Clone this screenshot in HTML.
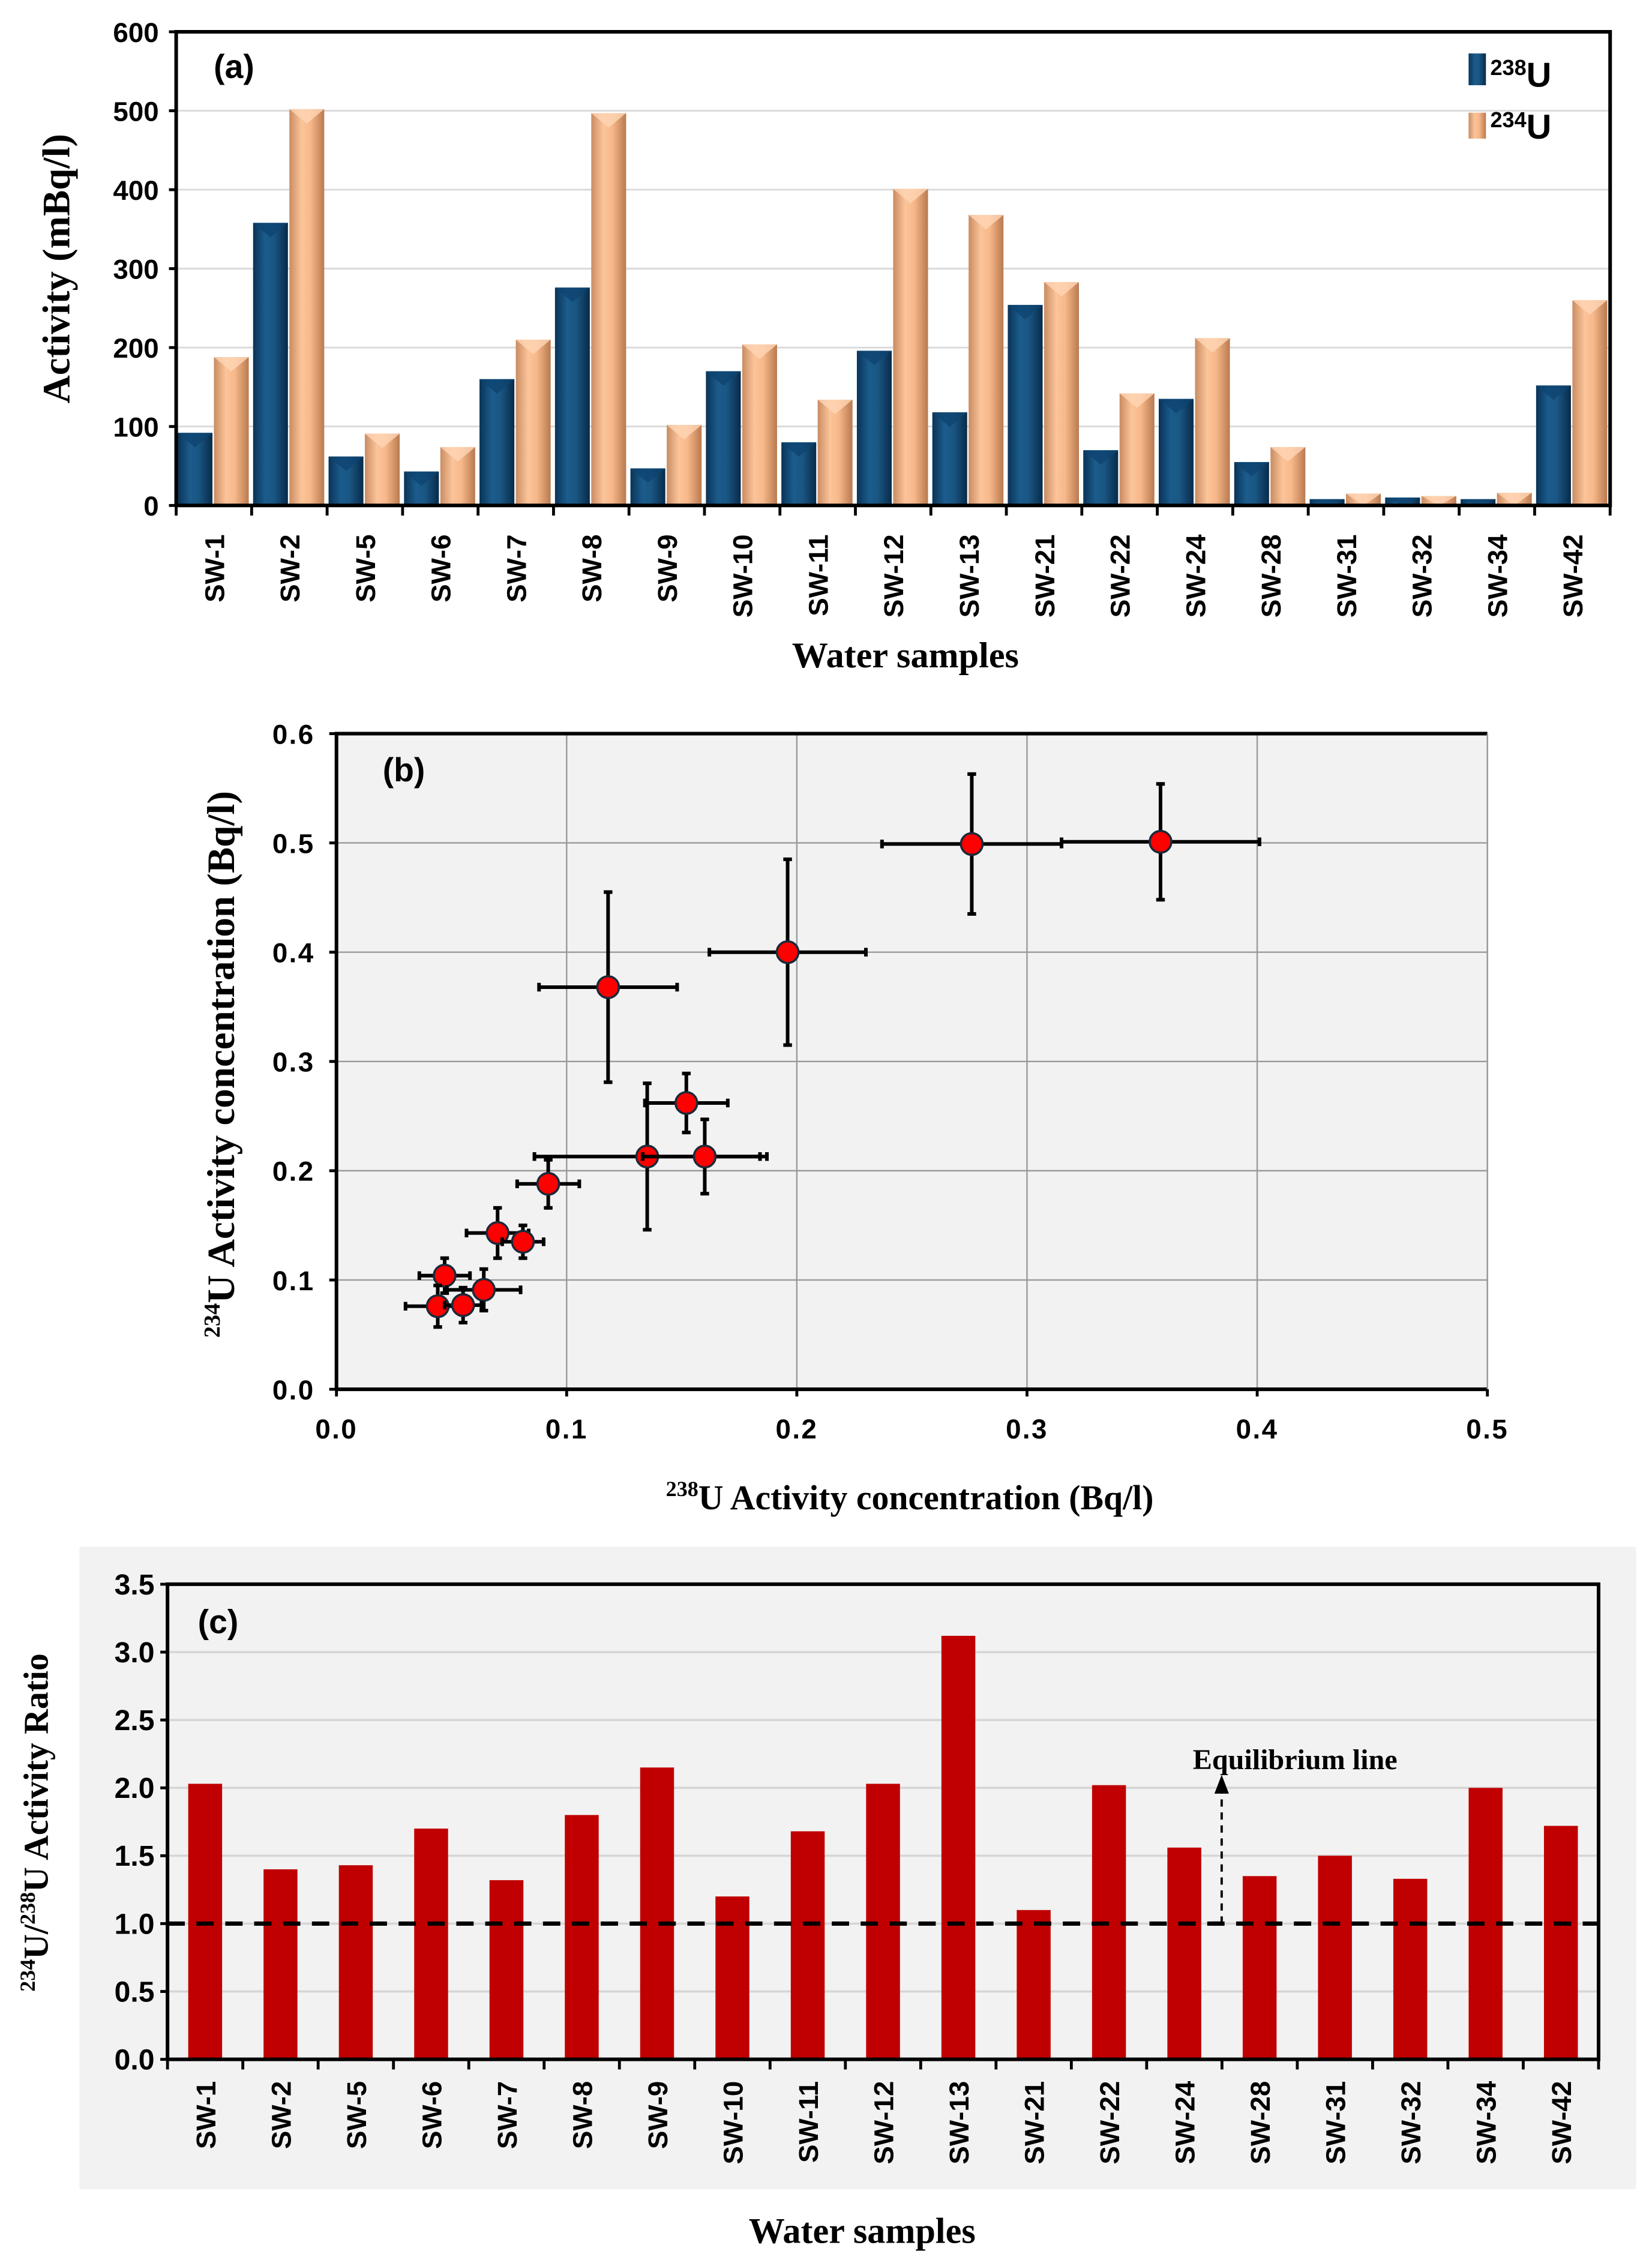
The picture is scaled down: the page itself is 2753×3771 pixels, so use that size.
<!DOCTYPE html>
<html><head><meta charset="utf-8">
<style>
html,body{margin:0;padding:0;background:#fff;}
svg{display:block;}
.ar{font-family:"Liberation Sans",Arial,sans-serif;font-weight:bold;}
.tr{font-family:"Liberation Serif","Times New Roman",serif;font-weight:bold;}
</style></head>
<body>
<svg id="fig" xmlns="http://www.w3.org/2000/svg" width="2753" height="3771" viewBox="0 0 1144 1567">
<defs>
<linearGradient id="gBlue" x1="0" x2="1" y1="0" y2="0">
<stop offset="0" stop-color="#0a3357"/><stop offset="0.35" stop-color="#1b5c8c"/><stop offset="0.6" stop-color="#1a5683"/><stop offset="1" stop-color="#082b4a"/>
</linearGradient>
<linearGradient id="gOr" x1="0" x2="1" y1="0" y2="0">
<stop offset="0" stop-color="#c98c62"/><stop offset="0.35" stop-color="#fcc49a"/><stop offset="0.6" stop-color="#f7b88a"/><stop offset="1" stop-color="#b97a50"/>
</linearGradient>
</defs>
<g id="pa"></g>
<g id="pb"></g>
<g id="pc"></g>
</svg>
<script>
const samplesA = ["SW-1","SW-2","SW-5","SW-6","SW-7","SW-8","SW-9","SW-10","SW-11","SW-12","SW-13","SW-21","SW-22","SW-24","SW-28","SW-31","SW-32","SW-34","SW-42"];
const u238 = [92,358,62,43,160,276,47,170,80,196,118,254,70,135,55,8,10,8,152];
const u234 = [188,502,91,74,210,497,102,204,134,401,368,283,142,212,74,15,12,16,260];
const aTicks = [0,100,200,300,400,500,600];

const bX = [0.358,0.276,0.196,0.118,0.152,0.135,0.160,0.092,0.070,0.081,0.047,0.064,0.044,0.055];
const bY = [0.501,0.499,0.400,0.368,0.262,0.213,0.213,0.188,0.143,0.135,0.104,0.091,0.076,0.077];
const bXerr = [0.043,0.039,0.034,0.030,0.018,0.049,0.027,0.0135,0.0135,0.009,0.011,0.016,0.014,0.008];
const bYerr = [0.053,0.064,0.085,0.087,0.027,0.067,0.034,0.022,0.023,0.015,0.016,0.019,0.019,0.016];
const bXTicks = [0,0.1,0.2,0.3,0.4,0.5];
const bYTicks = [0,0.1,0.2,0.3,0.4,0.5,0.6];

const samplesC = ["SW-1","SW-2","SW-5","SW-6","SW-7","SW-8","SW-9","SW-10","SW-11","SW-12","SW-13","SW-21","SW-22","SW-24","SW-28","SW-31","SW-32","SW-34","SW-42"];
const ratio = [2.03,1.40,1.43,1.70,1.32,1.80,2.15,1.20,1.68,2.03,3.12,1.10,2.02,1.56,1.35,1.50,1.33,2.00,1.72];
const cTicks = [0,0.5,1.0,1.5,2.0,2.5,3.0,3.5];
const equilibrium = 1.0;

const NS="http://www.w3.org/2000/svg";
function mk(parent,tag,attrs,text){const e=document.createElementNS(NS,tag);for(const k in attrs)e.setAttribute(k,attrs[k]);if(text!==undefined)e.textContent=text;parent.appendChild(e);return e;}

/* ---------- Panel A ---------- */
(function(){
 const g=document.getElementById('pa');
 const L=122,R=1115,T=22,B=350;
 const y=v=>B-(v/600)*(B-T);
 const cw=(R-L)/samplesA.length;
 const x=i=>L+i*cw;
 aTicks.forEach(t=>{
  if(t>0&&t<600){const l=mk(g,'line',{x1:L,x2:R,y1:y(t),y2:y(t),stroke:'#d9d9d9','stroke-width':1.2});}
  const tx=mk(g,'text',{x:L-12,y:y(t)+7,'text-anchor':'end','font-size':19,class:'ar'},String(t));
  
  mk(g,'line',{x1:L-5,x2:L,y1:y(t),y2:y(t),stroke:'#000','stroke-width':2});
 });
 samplesA.forEach((s,i)=>{
  const x0=x(i)+1,w=cw/2-1;
  [[u238[i],'url(#gBlue)','#0e4470','bar-u238',x0],[u234[i],'url(#gOr)','#ffd6b5','bar-u234',x0+w]].forEach(([v,f,top,nm,xx])=>{
   const r=mk(g,'rect',{x:xx,y:y(v),width:w-1,height:B-y(v),fill:f});
   
   const h=Math.min(10,B-y(v));
   mk(g,'polygon',{points:`${xx},${y(v)} ${xx+w-1},${y(v)} ${xx+(w-1)/2},${y(v)+h}`,fill:top,opacity:0.8});
  });
  const lx=x(i)+cw/2;
  const t=mk(g,'text',{x:0,y:0,'text-anchor':'end','font-size':19,class:'ar',transform:`translate(${lx+7},${B+20}) rotate(-90)`},s);
  
  mk(g,'line',{x1:x(i),x2:x(i),y1:B,y2:B+7,stroke:'#000','stroke-width':2});
 });
 mk(g,'line',{x1:R,x2:R,y1:B,y2:B+7,stroke:'#000','stroke-width':2});
 mk(g,'polyline',{points:`${L},${B} ${L},${T} ${R},${T} ${R},${B} ${L},${B}`,fill:'none',stroke:'#000','stroke-width':2.5});
 let e=mk(g,'text',{x:148,y:54,'font-size':23,class:'ar'},'(a)');
 e=mk(g,'text',{x:0,y:0,'text-anchor':'middle','font-size':27,class:'tr',transform:'translate(48,186) rotate(-90)'},'Activity  (mBq/l)');
 e=mk(g,'text',{x:627,y:462,'text-anchor':'middle','font-size':25,class:'tr'},'Water  samples');
 const lg=mk(g,'g',{});
 mk(lg,'rect',{x:1017,y:37,width:12,height:22,fill:'url(#gBlue)'});
 mk(lg,'rect',{x:1017,y:78,width:12,height:18,fill:'url(#gOr)'});
 const t1=mk(lg,'text',{x:1032,y:56,'font-size':19,class:'ar'});t1.innerHTML='<tspan font-size="15" dy="-4">238</tspan><tspan font-size="24" dy="8">U</tspan>';
 
 const t2=mk(lg,'text',{x:1032,y:92,'font-size':19,class:'ar'});t2.innerHTML='<tspan font-size="15" dy="-4">234</tspan><tspan font-size="24" dy="8">U</tspan>';
 
})();

/* ---------- Panel B ---------- */
(function(){
 const g=document.getElementById('pb');
 const L=233,R=1030,T=508,B=962;
 const x=v=>L+(v/0.5)*(R-L), y=v=>B-(v/0.6)*(B-T);
 const bg=mk(g,'rect',{x:L,y:T,width:R-L,height:B-T,fill:'#f2f2f2'});
 bXTicks.forEach(t=>{
  if(t>0)mk(g,'line',{x1:x(t),x2:x(t),y1:T,y2:B,stroke:'#9a9a9a','stroke-width':1});
  mk(g,'line',{x1:x(t),x2:x(t),y1:B,y2:B+5,stroke:'#000','stroke-width':2});
  const e=mk(g,'text',{x:x(t),y:B+34,'text-anchor':'middle','font-size':19,class:'ar','letter-spacing':1},t.toFixed(1));
  
 });
 bYTicks.forEach(t=>{
  if(t>0)mk(g,'line',{x1:L,x2:R,y1:y(t),y2:y(t),stroke:'#9a9a9a','stroke-width':1});
  mk(g,'line',{x1:L-5,x2:L,y1:y(t),y2:y(t),stroke:'#000','stroke-width':2});
  const e=mk(g,'text',{x:L-15,y:y(t)+7,'text-anchor':'end','font-size':19,class:'ar','letter-spacing':1},t.toFixed(1));
  
 });
 mk(g,'polyline',{points:`${L},${B} ${L},${T} ${R},${T}`,fill:'none',stroke:'#000','stroke-width':2.5});
 mk(g,'line',{x1:L,x2:R,y1:B,y2:B,stroke:'#000','stroke-width':2.5});
 mk(g,'line',{x1:R,x2:R,y1:T,y2:B,stroke:'#9a9a9a','stroke-width':1});
 bX.forEach((v,i)=>{
  const pg=mk(g,'g',{});
  const cx=x(v),cy=y(bY[i]),x1=x(v-bXerr[i]),x2=x(v+bXerr[i]),y1=y(bY[i]+bYerr[i]),y2=y(bY[i]-bYerr[i]);
  mk(pg,'line',{x1:x1,x2:x2,y1:cy,y2:cy,stroke:'#000','stroke-width':2.5});
  mk(pg,'line',{x1:x1,x2:x1,y1:cy-3,y2:cy+3,stroke:'#000','stroke-width':2.5});
  mk(pg,'line',{x1:x2,x2:x2,y1:cy-3,y2:cy+3,stroke:'#000','stroke-width':2.5});
  mk(pg,'line',{x1:cx,x2:cx,y1:y1,y2:y2,stroke:'#000','stroke-width':2.5});
  mk(pg,'line',{x1:cx-3,x2:cx+3,y1:y1,y2:y1,stroke:'#000','stroke-width':2.5});
  mk(pg,'line',{x1:cx-3,x2:cx+3,y1:y2,y2:y2,stroke:'#000','stroke-width':2.5});
  mk(pg,'circle',{cx:cx,cy:cy,r:7.5,fill:'#ff0000',stroke:'#1a2a3a','stroke-width':1.5});
 });
 let e=mk(g,'text',{x:265,y:541,'font-size':23,class:'ar'},'(b)');
 e=mk(g,'text',{x:630,y:1045,'text-anchor':'middle','font-size':24,class:'tr'});e.innerHTML='<tspan font-size="15" dy="-9">238</tspan><tspan dy="9">U Activity concentration  (Bq/l)</tspan>';
 
 e=mk(g,'text',{x:0,y:0,'text-anchor':'middle','font-size':27,class:'tr',transform:'translate(162,737) rotate(-90)'});e.innerHTML='<tspan font-size="16" dy="-10">234</tspan><tspan dy="10">U Activity concentration  (Bq/l)</tspan>';
 
})();

/* ---------- Panel C ---------- */
(function(){
 const g=document.getElementById('pc');
 const bg=mk(g,'rect',{x:55,y:1071,width:1078,height:445,fill:'#f2f2f2'});
 const L=116,R=1107,T=1097,B=1426;
 const y=v=>B-(v/3.5)*(B-T);
 const cw=(R-L)/samplesC.length;
 const x=i=>L+i*cw;
 cTicks.forEach(t=>{
  if(t>0&&t<3.5)mk(g,'line',{x1:L,x2:R,y1:y(t),y2:y(t),stroke:'#d6d6d6','stroke-width':1.5});
  mk(g,'line',{x1:L-5,x2:L,y1:y(t),y2:y(t),stroke:'#000','stroke-width':2});
  const e=mk(g,'text',{x:L-9,y:y(t)+7,'text-anchor':'end','font-size':20,class:'ar'},t.toFixed(1));
  
 });
 samplesC.forEach((s,i)=>{
  const bw=cw*0.45;
  const r=mk(g,'rect',{x:x(i)+(cw-bw)/2,y:y(ratio[i]),width:bw,height:B-y(ratio[i]),fill:'#c00000'});
  
  mk(g,'line',{x1:x(i),x2:x(i),y1:B,y2:B+7,stroke:'#000','stroke-width':2});
  const t=mk(g,'text',{x:0,y:0,'text-anchor':'end','font-size':19,class:'ar',transform:`translate(${x(i)+cw/2+7},${B+15}) rotate(-90)`},s);
  
 });
 mk(g,'line',{x1:R,x2:R,y1:B,y2:B+7,stroke:'#000','stroke-width':2});
 mk(g,'polyline',{points:`${L},${B} ${L},${T} ${R},${T} ${R},${B} ${L},${B}`,fill:'none',stroke:'#000','stroke-width':2.5});
 let e=mk(g,'line',{x1:L,x2:R,y1:y(equilibrium),y2:y(equilibrium),stroke:'#000','stroke-width':3,'stroke-dasharray':'12,8'});
 
 const ax=846;
 mk(g,'line',{x1:ax-6,x2:ax,y1:y(equilibrium),y2:y(equilibrium),stroke:'#000','stroke-width':3});
 e=mk(g,'line',{x1:ax,x2:ax,y1:y(equilibrium),y2:y(2.0),stroke:'#000','stroke-width':1.6,'stroke-dasharray':'5,4'});
 
 mk(g,'polygon',{points:`${ax-5},${y(2.0)+4} ${ax+5},${y(2.0)+4} ${ax},${y(2.0)-9}`,fill:'#000'});
 e=mk(g,'text',{x:826,y:1225,'font-size':20,class:'tr'},'Equilibrium  line');
 e=mk(g,'text',{x:137,y:1131,'font-size':23,class:'ar'},'(c)');
 e=mk(g,'text',{x:0,y:0,'text-anchor':'middle','font-size':24,class:'tr',transform:'translate(33,1262) rotate(-90)'});e.innerHTML='<tspan font-size="15" dy="-9">234</tspan><tspan dy="9">U/</tspan><tspan font-size="15" dy="-9">238</tspan><tspan dy="9">U Activity Ratio</tspan>';
 
 e=mk(g,'text',{x:597,y:1553,'text-anchor':'middle','font-size':25,class:'tr'},'Water  samples');
})();
</script>
</body></html>
